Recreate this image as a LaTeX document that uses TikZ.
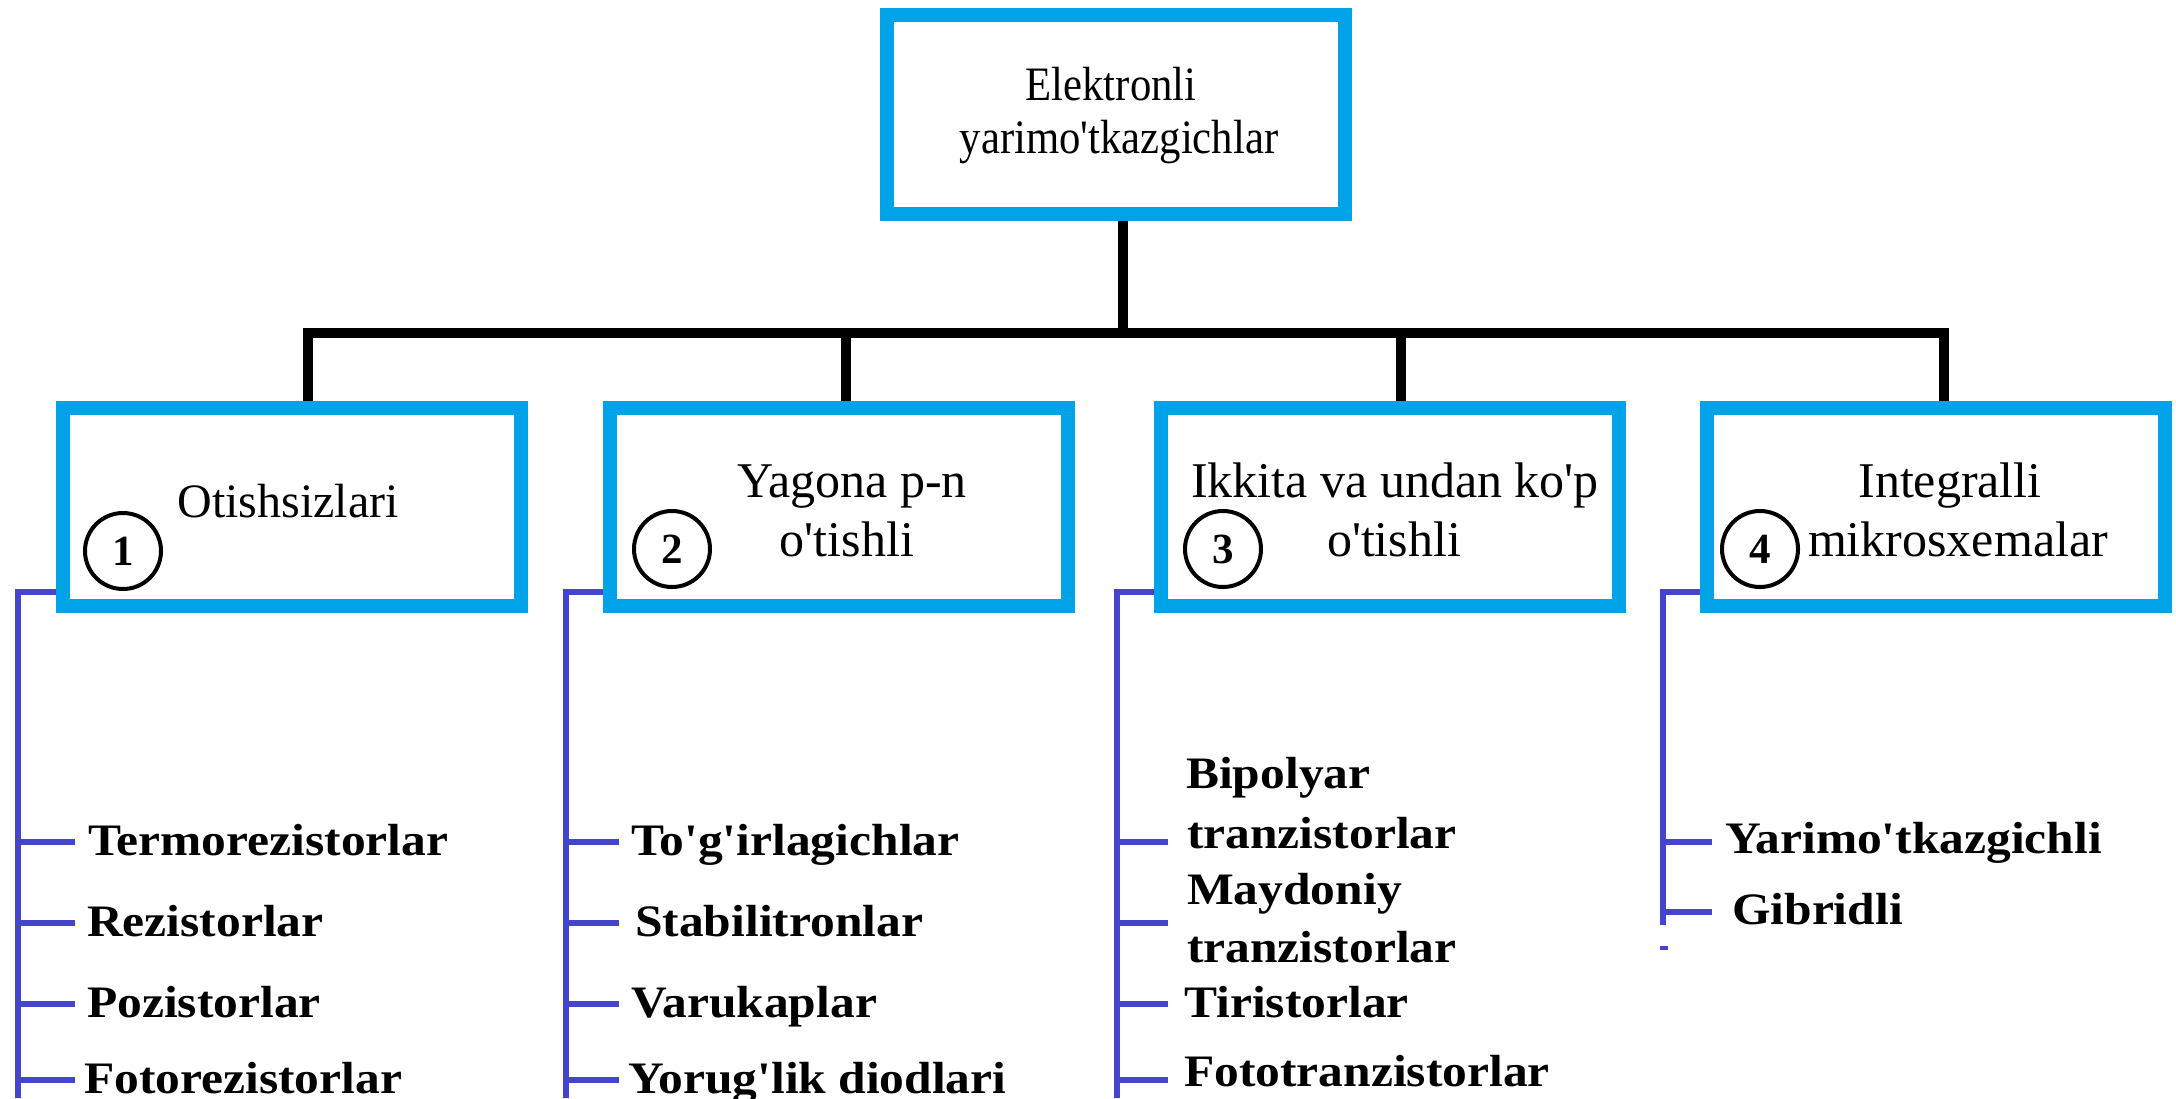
\documentclass[tikz,border=0pt]{standalone}
\usepackage{fontspec}
\newfontfamily\tnr{Liberation Serif}
\newfontfamily\topfont[FakeStretch=0.89]{Liberation Serif}
\newfontfamily\itmfont[FakeStretch=1.1]{Liberation Serif}
\definecolor{boxblue}{RGB}{0,162,232}
\definecolor{listblue}{RGB}{68,68,204}
\begin{document}
\begin{tikzpicture}[x=1pt,y=1pt,
  bx/.style={draw=boxblue, line width=14pt, outer sep=7pt, minimum width=458pt, minimum height=198pt, inner sep=0pt},
  blk/.style={line width=10pt, draw=black},
  bl/.style={line width=6pt, draw=listblue},
  num/.style={circle, draw=black, line width=4pt, minimum size=76pt, inner sep=0pt, font=\tnr\fontsize{43}{43}\selectfont\bfseries},
  lbl/.style={anchor=base, inner sep=0pt, font=\tnr\fontsize{50}{58}\selectfont},
  itm/.style={anchor=base west, inner sep=0pt, font=\itmfont\fontsize{45}{58}\selectfont\bfseries}]
\useasboundingbox (0,0) rectangle (2176,-1098);
\fill[white] (0,0) rectangle (2176,-1098);

% boxes
\node[bx, minimum height=199pt] (top) at (1116,-114.5) {};
\node[bx] (b1) at (292,-507) {};
\node[bx] (b2) at (838.5,-507) {};
\node[bx] (b3) at (1389.5,-507) {};
\node[bx] (b4) at (1936,-507) {};

% box texts
\node[lbl, font=\topfont\fontsize{48}{58}\selectfont] (t0a) at (1111,-100) {Elektronli};
\node[lbl, font=\topfont\fontsize{48}{58}\selectfont] (t0b) at (1119,-153) {yarimo'tkazgichlar};
\node[lbl, font=\tnr\fontsize{48}{58}\selectfont] (tb1) at (288,-517) {Otishsizlari};
\node[lbl] (tb2a) at (852,-497) {Yagona p-n};
\node[lbl] (tb2b) at (847,-556) {o'tishli};
\node[lbl] (tb3a) at (1395,-497) {Ikkita va undan ko'p};
\node[lbl] (tb3b) at (1394,-556) {o'tishli};
\node[lbl] (tb4a) at (1950,-497) {Integralli};
\node[lbl] (tb4b) at (1958,-556) {mikrosxemalar};

% numbers
\node[num] (n1) at (123,-551) {1};
\node[num] (n2) at (672,-549) {2};
\node[num] (n3) at (1223,-549) {3};
\node[num] (n4) at (1760,-549) {4};

% black tree connectors
\draw[blk] ([xshift=7]top.south) -- ++(0,-112);
\draw[blk] ([xshift=16]b1.north) -- ++(0,68) -| ([xshift=8]b4.north);
\draw[blk] ([xshift=7.5]b2.north) -- ++(0,68);
\draw[blk] ([xshift=11.5]b3.north) -- ++(0,68);

% column 1
\coordinate (e1) at (18,-1098);
\draw[bl] ([yshift=-85]b1.west) -| (e1);
\foreach \y in {842,923,1004,1080} \draw[bl] (18,-\y) -- (75,-\y);
\node[itm] (i11) at (88,-855) {Termorezistorlar};
\node[itm] (i12) at (87,-936) {Rezistorlar};
\node[itm] (i13) at (87,-1017) {Pozistorlar};
\node[itm] (i14) at (84,-1093) {Fotorezistorlar};

% column 2
\coordinate (e2) at (566,-1098);
\draw[bl] ([yshift=-85]b2.west) -| (e2);
\foreach \y in {842,923,1004,1080} \draw[bl] (566,-\y) -- (619,-\y);
\node[itm] (i21) at (631,-855) {To'g'irlagichlar};
\node[itm] (i22) at (635,-936) {Stabilitronlar};
\node[itm] (i23) at (631,-1017) {Varukaplar};
\node[itm] (i24) at (628,-1093) {Yorug'lik diodlari};

% column 3
\coordinate (e3) at (1117,-1098);
\draw[bl] ([yshift=-85]b3.west) -| (e3);
\foreach \y in {842,923,1004,1080} \draw[bl] (1117,-\y) -- (1168,-\y);
\node[itm] (i31a) at (1186,-788) {Bipolyar};
\node[itm] (i31b) at (1187,-848) {tranzistorlar};
\node[itm] (i32a) at (1187,-904) {Maydoniy};
\node[itm] (i32b) at (1187,-962) {tranzistorlar};
\node[itm] (i33) at (1184,-1017) {Tiristorlar};
\node[itm] (i34) at (1184,-1086) {Fototranzistorlar};

% column 4
\coordinate (e4) at (1663,-925);
\draw[bl] ([yshift=-85]b4.west) -| (e4);
\foreach \y in {842,912} \draw[bl] (1663,-\y) -- (1712,-\y);
\node[itm] (i41) at (1725,-853) {Yarimo'tkazgichli};
\node[itm] (i42) at (1732,-924) {Gibridli};
\coordinate (d1) at (1660,-948);
\coordinate (d2) at (1668,-948);
\draw[listblue, line width=4pt] (d1) -- (d2);
\end{tikzpicture}
\end{document}
